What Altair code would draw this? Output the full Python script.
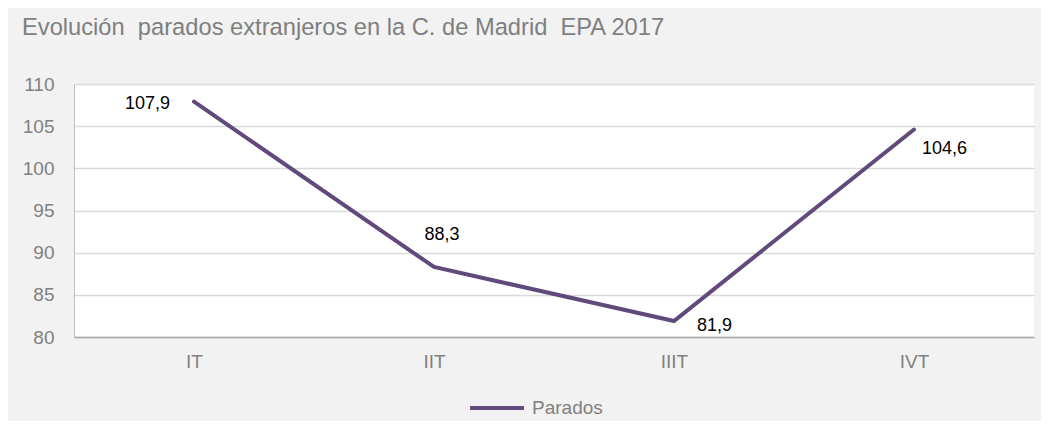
import altair as alt
import pandas as pd

trimestres = ["IT", "IIT", "IIIT", "IVT"]
parados = [107.9, 88.3, 81.9, 104.6]
serie = ["Parados"] * 4

df = pd.DataFrame({"trimestre": trimestres, "valor": parados, "serie": serie})

FONT = "Liberation Sans"
PURPLE = "#604a7b"
NB = "\u00a0"

x = alt.X("trimestre:N", sort=trimestres, title=None,
          scale=alt.Scale(type="point", padding=0.5),
          axis=alt.Axis(labelAngle=0, ticks=False, labelPadding=15, labelFontSize=19,
                        labelColor="#808080", labelFont=FONT, domainColor="#a6a6a6",
                        domainWidth=1.5, grid=False))
y = alt.Y("valor:Q", title=None,
          scale=alt.Scale(domain=[80, 110], nice=False, zero=False),
          axis=alt.Axis(values=[80, 85, 90, 95, 100, 105, 110], ticks=False, labelPadding=20,
                        labelFontSize=19, labelColor="#808080", labelFont=FONT,
                        domainColor="#bfbfbf", gridColor="#d9d9d9", gridWidth=1.3))

base = alt.Chart(df).encode(x=x, y=y)

line = base.mark_line(strokeWidth=4, strokeCap="round").encode(
    color=alt.Color("serie:N", title=None,
                    scale=alt.Scale(domain=["Parados"], range=[PURPLE]),
                    legend=alt.Legend(orient="none", legendX=394, legendY=295,
                                      symbolType="stroke", symbolSize=2900,
                                      symbolStrokeWidth=4, labelFontSize=19,
                                      labelColor="#808080", labelFont=FONT,
                                      labelOffset=6))
)

def lbl(t, align, dx, dy):
    return base.transform_filter(alt.datum.trimestre == t).transform_calculate(
        lab="replace(format(datum.valor, '.1f'), '.', ',')"
    ).mark_text(align=align, dx=dx, dy=dy, fontSize=18, font=FONT, color="#000000").encode(
        text="lab:N")

labels = [lbl("IT", "right", -24, 2), lbl("IIT", "center", 8, -32),
          lbl("IIIT", "left", 23, 5), lbl("IVT", "left", 8, 19)]

title_text = f"Evolución {NB}parados extranjeros en la C. de Madrid {NB}EPA 2017"

chart = alt.layer(line, *labels).properties(
    width=960, height=253,
    autosize=alt.AutoSizeParams(type="none"),
    padding={"left": 66, "top": 76, "right": 7, "bottom": 84},
    background="#f2f2f2",
    title=alt.TitleParams(title_text,
                          anchor="start", frame="group", dx=-52, offset=35,
                          fontSize=23.7, font=FONT, fontWeight="normal", color="#7f7f7f"),
).configure_view(stroke=None, fill="#ffffff")

chart.save("out.html", embed_options={"renderer": "svg", "actions": False})
